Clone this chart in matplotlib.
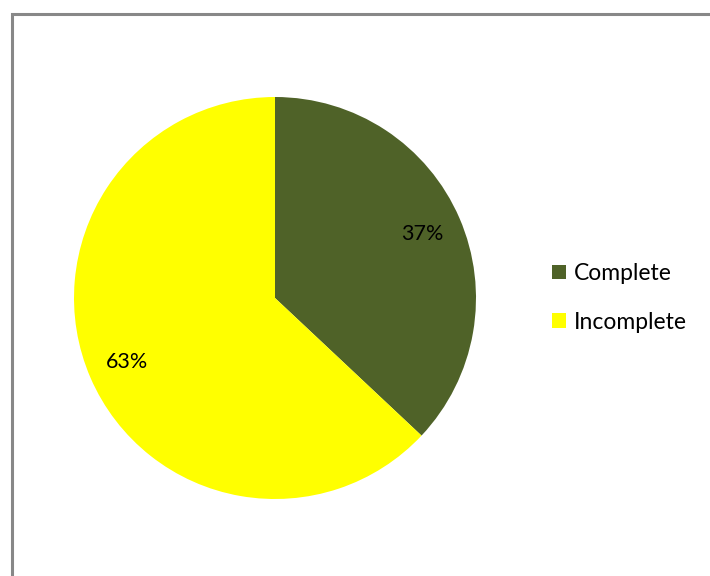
import matplotlib
matplotlib.use("Agg")
import matplotlib.pyplot as plt
from matplotlib.patches import Rectangle

categories = ["Complete", "Incomplete"]
values = [37, 63]
colors = ["#4F6228", "#FFFF00"]

plt.rcParams['font.family'] = ['Lato', 'DejaVu Sans']

W, H = 710, 576
fig = plt.figure(figsize=(W / 100, H / 100), dpi=100)
fig.patch.set_facecolor("white")

# chart border (extends beyond right/bottom)
fig.patches.append(Rectangle((11.5 / W, -0.1), 1.2, 1.1 - 13.5 / H,
                             transform=fig.transFigure, fill=False,
                             edgecolor="#888888", linewidth=2.2))

ax = fig.add_axes([74 / W, 77 / H, 402 / W, 402 / H])
wedges, texts, autotexts = ax.pie(values, colors=colors, startangle=90, counterclock=False,
                                  autopct="%d%%", pctdistance=0.8, radius=1,
                                  textprops=dict(fontsize=15.5, color="black"))
ax.set_xlim(-1, 1)
ax.set_ylim(-1, 1)
ax.set_aspect("equal")
ax.axis("off")

leg = fig.legend(wedges, categories, loc="center left", bbox_to_anchor=(541 / W, 1 - 298 / H),
                 frameon=False, fontsize=16.5, handlelength=0.6, handleheight=0.6,
                 handletextpad=0.35, labelspacing=1.2, borderpad=0)

fig.savefig("out.png", dpi=100, facecolor="white")
